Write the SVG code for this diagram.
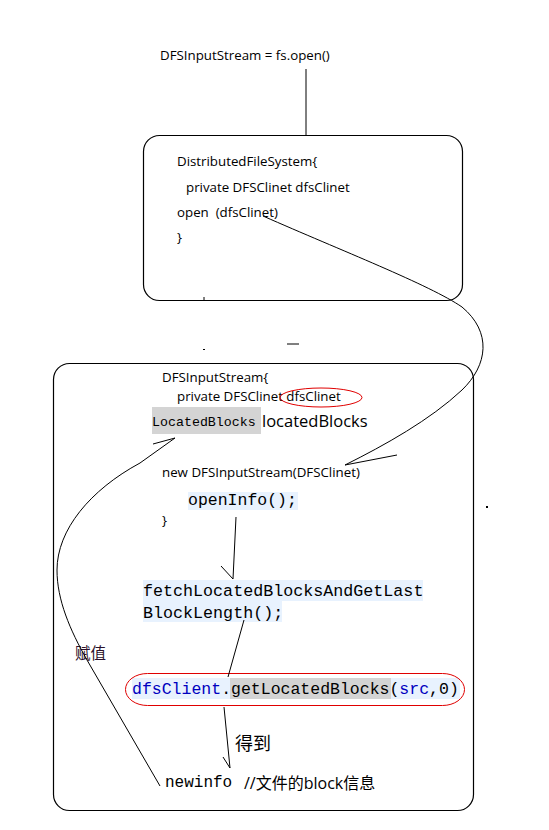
<svg xmlns="http://www.w3.org/2000/svg" width="549" height="830" viewBox="0 0 549 830">
<style>
.s{font-family:"Open Sans","Noto Sans","Liberation Sans",sans-serif;fill:#000;white-space:pre}
.m{font-family:"Liberation Mono","DejaVu Sans Mono",monospace;fill:#000}
.cj{font-family:"Noto Sans CJK SC","Noto Sans",sans-serif}
.ln{fill:none;stroke:#000;stroke-width:1}
.box{fill:none;stroke:#000;stroke-width:1.2}
</style>
<rect width="549" height="830" fill="#fff"/>
<g id="top">
<text class="s" x="160" y="60" font-size="13.3">DFSInputStream = fs.open()</text>
</g>
<g id="dfs">
<rect class="box" x="143.5" y="135.5" width="319" height="165" rx="16"/>
<text class="s" x="177" y="166" font-size="13.3">DistributedFileSystem{</text>
<text class="s" x="186" y="192" font-size="13.3">private DFSClinet dfsClinet</text>
<text class="s" x="177" y="217" font-size="13.3" xml:space="preserve">open  (dfsClinet)</text>
<text class="s" x="177" y="242" font-size="13.3">}</text>
</g>
<g id="dis">
<rect class="box" x="53.5" y="363.5" width="420" height="447" rx="16"/>
<text class="s" x="162" y="382" font-size="13.3">DFSInputStream{</text>
<text class="s" x="177" y="401" font-size="13.3">private DFSClinet dfsClinet</text>
<ellipse cx="321" cy="397.5" rx="41" ry="9.5" fill="none" stroke="#e00000" stroke-width="1"/>
<rect x="152" y="407" width="109" height="27" fill="#d4d4d4"/>
<text class="m" x="152" y="426" font-size="13.3">LocatedBlocks</text>
<text class="s" x="262" y="427" font-size="16.5">locatedBlocks</text>
<text class="s" x="162" y="477" font-size="13.3">new DFSInputStream(DFSClinet)</text>
<rect x="188" y="492" width="110" height="18" fill="#e8f2fe"/>
<text class="m" x="188" y="505" font-size="16.5">openInfo();</text>
<text class="s" x="162" y="525" font-size="13.3">}</text>
<rect x="143" y="580" width="280" height="21" fill="#e8f2fe"/>
<rect x="143" y="601" width="139" height="21" fill="#e8f2fe"/>
<text class="m" x="143" y="596" font-size="16.7">fetchLocatedBlocksAndGetLast</text>
<text class="m" x="143" y="618" font-size="16.7">BlockLength();</text>
<rect x="132" y="678" width="98" height="21" fill="#e8f2fe"/>
<rect x="230" y="678" width="161" height="21" fill="#d4d4d4"/>
<rect x="391" y="678" width="69" height="21" fill="#e8f2fe"/>
<text class="m" x="132" y="694" font-size="16.5"><tspan fill="#0000c0">dfsClient</tspan>.getLocatedBlocks(<tspan fill="#0000c0">src</tspan>,0)</text>
<rect x="125.5" y="673.5" width="339" height="32" rx="22" ry="16" fill="none" stroke="#e00000" stroke-width="1"/>
<text class="cj" x="235" y="750" font-size="18" fill="#000">得到</text>
<text class="m" x="165" y="787" font-size="16">newinfo</text>
<text class="s" x="244" y="789" font-size="16"><tspan>//</tspan><tspan class="cj">文件的</tspan><tspan>block</tspan><tspan class="cj">信息</tspan></text>
<text class="cj" x="75" y="659" font-size="15.5" fill="#2a102a">赋值</text>
</g>
<g id="connectors">
<line class="ln" x1="306" y1="69" x2="306" y2="135"/>
<path class="ln" d="M263,216 C340,250 430,285 462,307 C492,332 488,365 462,390 C430,420 385,445 345,465"/>
<line class="ln" x1="345" y1="465" x2="397" y2="455"/>
<line class="ln" x1="236" y1="517" x2="233" y2="579"/>
<line class="ln" x1="221" y1="566" x2="233" y2="579"/>
<line class="ln" x1="244" y1="620" x2="228" y2="677"/>
<line class="ln" x1="224" y1="707" x2="230" y2="768"/>
<line class="ln" x1="223" y1="757" x2="230" y2="768"/>
<path class="ln" d="M160,786 L87,660 C70,630 57,600 57,570 C57,530 90,490 140,463 L175,438"/>
<line class="ln" x1="153" y1="444" x2="175" y2="438"/>
<line class="ln" x1="287" y1="344" x2="299" y2="344"/>
<line class="ln" x1="204" y1="297" x2="204" y2="300"/>
<rect x="203" y="349" width="2" height="1" fill="#000"/>
<rect x="486" y="506" width="2" height="2" fill="#000"/>
</g>
</svg>
